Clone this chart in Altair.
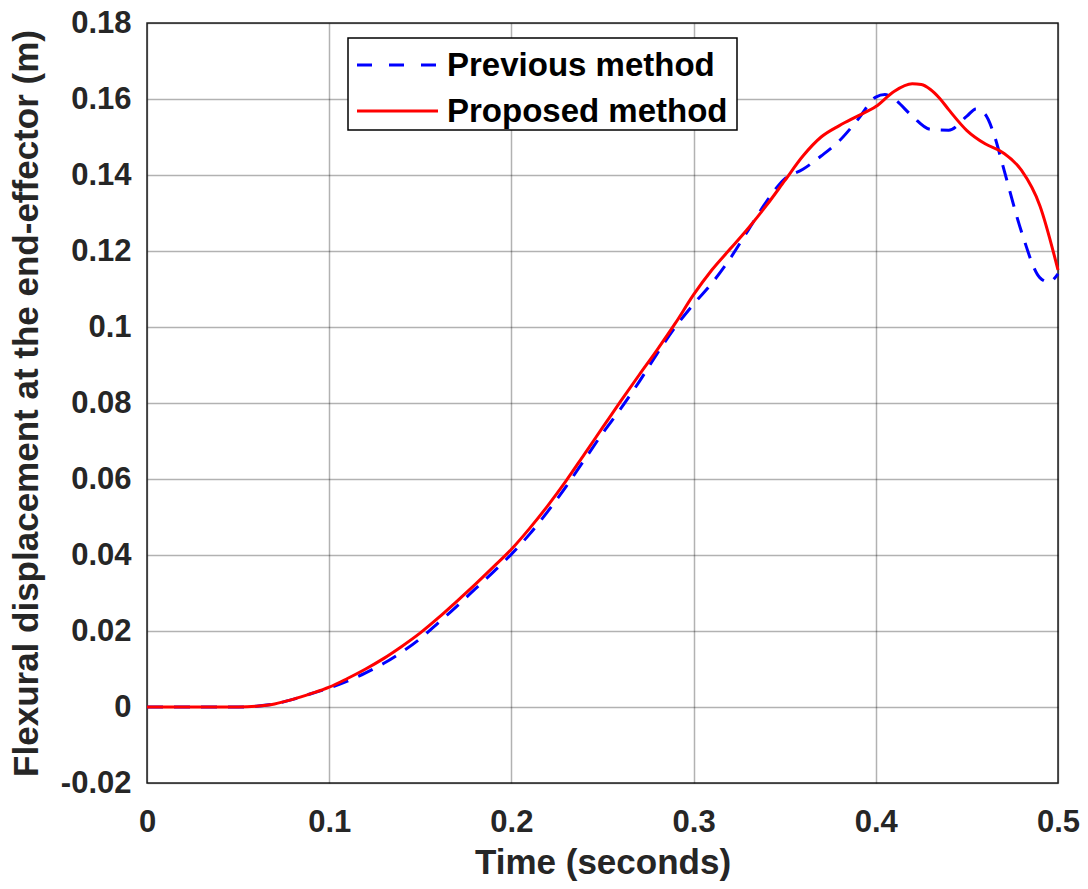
import altair as alt
import pandas as pd

# Proposed method (red, solid)
t_proposed = [0.00, 0.01, 0.02, 0.03, 0.04, 0.05, 0.06, 0.07, 0.08, 0.09,
              0.10, 0.11, 0.12, 0.13, 0.14, 0.15, 0.16, 0.17, 0.18, 0.19,
              0.20, 0.21, 0.22, 0.23, 0.24, 0.25, 0.26, 0.27, 0.28, 0.29,
              0.30, 0.31, 0.32, 0.33, 0.34, 0.35, 0.36, 0.37, 0.38, 0.39,
              0.40, 0.41, 0.42, 0.425, 0.43, 0.435, 0.44, 0.45, 0.46, 0.47,
              0.48, 0.49, 0.50]
y_proposed = [0.0, 0.0, 0.0, 0.0, 0.0, 0.0, 0.0002, 0.0008, 0.0020, 0.0035,
              0.0052, 0.0075, 0.0100, 0.0128, 0.0160, 0.0195, 0.0235, 0.0278, 0.0322, 0.0368,
              0.0415, 0.0470, 0.0530, 0.0595, 0.0665, 0.0735, 0.0805, 0.0873, 0.0940, 0.1010,
              0.1085, 0.1150, 0.1205, 0.1260, 0.1320, 0.1385, 0.1450, 0.1500, 0.1530, 0.1555,
              0.1580, 0.1620, 0.1640, 0.1638, 0.1625, 0.1602, 0.1572, 0.1517, 0.1482, 0.1458,
              0.1412, 0.1320, 0.1150]

# Previous method (blue, dashed)
t_previous = [0.00, 0.01, 0.02, 0.03, 0.04, 0.05, 0.06, 0.07, 0.08, 0.09,
              0.10, 0.11, 0.12, 0.13, 0.14, 0.15, 0.16, 0.17, 0.18, 0.19,
              0.20, 0.21, 0.22, 0.23, 0.24, 0.25, 0.26, 0.27, 0.28, 0.29,
              0.30, 0.31, 0.32, 0.33, 0.34, 0.35, 0.36, 0.37, 0.38, 0.39,
              0.40, 0.405, 0.41, 0.42, 0.43, 0.44, 0.45, 0.455, 0.46, 0.465,
              0.47, 0.48, 0.49, 0.495, 0.50]
y_previous = [0.0, 0.0, 0.0, 0.0, 0.0, 0.0, 0.0002, 0.0008, 0.0020, 0.0035,
              0.0050, 0.0068, 0.0090, 0.0115, 0.0145, 0.0180, 0.0222, 0.0265, 0.0310, 0.0355,
              0.0402, 0.0455, 0.0515, 0.0580, 0.0650, 0.0720, 0.0785, 0.0855, 0.0930, 0.1000,
              0.1060, 0.1115, 0.1180, 0.1255, 0.1330, 0.1390, 0.1415, 0.1450, 0.1490, 0.1545,
              0.1605, 0.1612, 0.1600, 0.1555, 0.1520, 0.1518, 0.1555, 0.1574, 0.1560, 0.1505,
              0.1420, 0.1250, 0.1130, 0.1118, 0.1140]

legend_labels = ["Previous method", "Proposed method"]
x_ticks = [0, 0.1, 0.2, 0.3, 0.4, 0.5]
y_ticks = [-0.02, 0, 0.02, 0.04, 0.06, 0.08, 0.1, 0.12, 0.14, 0.16, 0.18]

df_prev = pd.DataFrame({"t": t_previous, "y": y_previous})
df_prop = pd.DataFrame({"t": t_proposed, "y": y_proposed})

FONT = "Liberation Sans"
label_expr = "(datum.value < 0 ? '-' : '') + format(abs(datum.value), '~g')"

x_enc = alt.X("t:Q", scale=alt.Scale(domain=[0, 0.5], nice=False),
              axis=alt.Axis(values=x_ticks, title="Time (seconds)", labelExpr=label_expr,
                            labelPadding=24, titlePadding=8, labelFlush=False))
y_enc = alt.Y("y:Q", scale=alt.Scale(domain=[-0.02, 0.18], nice=False),
              axis=alt.Axis(values=y_ticks, title="Flexural displacement at the end-effector (m)",
                            labelExpr=label_expr, labelPadding=16, titlePadding=16,
                            labelFlush=False))

prev_line = alt.Chart(df_prev).mark_line(
    color="#0000ff", strokeWidth=3, strokeDash=[16, 11], interpolate="monotone"
).encode(x=x_enc, y=y_enc)

prop_line = alt.Chart(df_prop).mark_line(
    color="#ff0000", strokeWidth=3, interpolate="monotone"
).encode(x=x_enc, y=y_enc)

one = pd.DataFrame({"k": [0]})

legend_box = alt.Chart(one).mark_rect(fill="white", stroke="black", strokeWidth=1.5).encode(
    x=alt.value(201), x2=alt.value(590), y=alt.value(15), y2=alt.value(107))
leg_rule1 = alt.Chart(one).mark_rule(color="#0000ff", strokeWidth=3, strokeDash=[15, 17]).encode(
    x=alt.value(210), x2=alt.value(291), y=alt.value(42))
leg_rule2 = alt.Chart(one).mark_rule(color="#ff0000", strokeWidth=3).encode(
    x=alt.value(210), x2=alt.value(291), y=alt.value(88))
leg_text1 = alt.Chart(one).mark_text(align="left", baseline="middle", font=FONT,
                                     fontSize=33, fontWeight="bold", color="black").encode(
    x=alt.value(300), y=alt.value(43), text=alt.value(legend_labels[0]))
leg_text2 = alt.Chart(one).mark_text(align="left", baseline="middle", font=FONT,
                                     fontSize=33, fontWeight="bold", color="black").encode(
    x=alt.value(300), y=alt.value(89), text=alt.value(legend_labels[1]))

chart = alt.layer(prev_line, prop_line, legend_box, leg_rule1, leg_rule2, leg_text1, leg_text2).properties(
    width=911, height=760,
    autosize=alt.AutoSizeParams(type="none"),
    padding={"left": 147, "top": 23, "right": 30, "bottom": 106},
    background="white",
).configure_view(
    stroke="#262626", strokeWidth=1.5
).configure_axis(
    grid=True, gridColor="#000000", gridOpacity=0.3, gridWidth=1.5,
    domain=False, ticks=False,
    labelFont=FONT, labelFontSize=31, labelFontWeight="bold", labelColor="#262626",
    titleFont=FONT, titleFontSize=35, titleFontWeight="bold", titleColor="#262626",
)

chart.save("out.html", embed_options={"renderer": "svg", "actions": False})
